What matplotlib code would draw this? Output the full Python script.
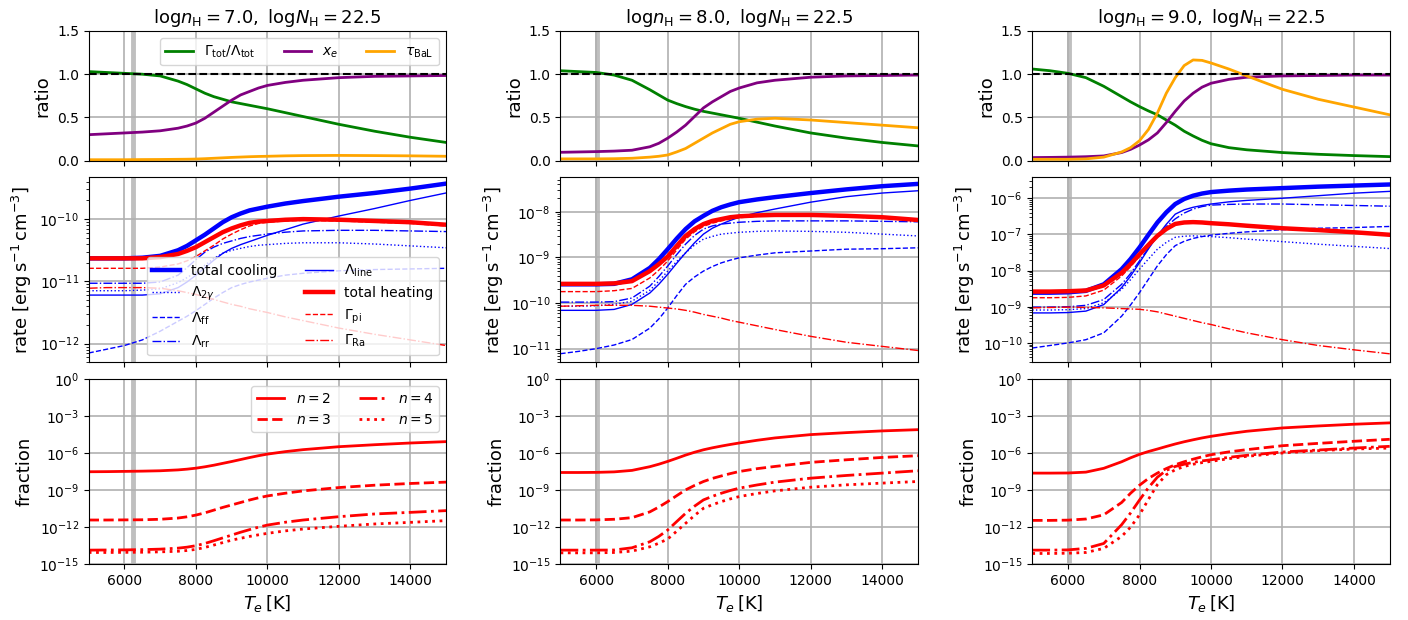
import numpy as np
import matplotlib.pyplot as plt
from matplotlib.ticker import NullLocator

# electron temperature grid [K]
T = [5000, 5500, 6000, 6500, 7000, 7500, 7750, 8000, 8250, 8500, 8750,
     9000, 9250, 9500, 9750, 10000, 10500, 11000, 12000, 13000, 14000, 15000]

lognH = [7.0, 8.0, 9.0]
logNH = 22.5
T_eq = [6230, 6020, 6030]

# ---- log nH = 7 ----
hc_7 = [1.03, 1.02, 1.01, 1.00, 0.98, 0.92, 0.88, 0.83, 0.78, 0.74, 0.71, 0.68, 0.66, 0.64, 0.62, 0.60, 0.555, 0.51, 0.42, 0.34, 0.27, 0.21]
xe_7 = [0.30, 0.31, 0.32, 0.33, 0.345, 0.375, 0.40, 0.435, 0.49, 0.56, 0.63, 0.70, 0.76, 0.80, 0.84, 0.87, 0.905, 0.93, 0.96, 0.975, 0.98, 0.985]
tau_7 = [0.01, 0.01, 0.01, 0.012, 0.013, 0.015, 0.016, 0.018, 0.022, 0.027, 0.032, 0.037, 0.041, 0.045, 0.048, 0.05, 0.055, 0.058, 0.06, 0.058, 0.055, 0.05]

cool_7 = [-10.63, -10.63, -10.63, -10.62, -10.59, -10.50, -10.43, -10.34, -10.25, -10.15, -10.05, -9.97, -9.91, -9.86, -9.83, -9.80, -9.75, -9.71, -9.64, -9.58, -9.51, -9.43]
heat_7 = [-10.63, -10.63, -10.63, -10.63, -10.61, -10.56, -10.51, -10.45, -10.37, -10.29, -10.21, -10.15, -10.10, -10.06, -10.04, -10.03, -10.01, -10.00, -10.01, -10.03, -10.05, -10.09]
line_7 = [-11.22, -11.22, -11.22, -11.22, -11.20, -11.10, -11.01, -10.90, -10.78, -10.66, -10.55, -10.47, -10.41, -10.36, -10.31, -10.26, -10.17, -10.08, -9.95, -9.83, -9.70, -9.58]
rr_7 = [-11.03, -11.03, -11.03, -11.03, -11.01, -10.90, -10.78, -10.65, -10.53, -10.45, -10.39, -10.35, -10.31, -10.28, -10.26, -10.24, -10.21, -10.19, -10.18, -10.18, -10.19, -10.20]
twog_7 = [-11.15, -11.15, -11.15, -11.14, -11.12, -11.02, -10.94, -10.85, -10.74, -10.63, -10.55, -10.50, -10.47, -10.44, -10.42, -10.41, -10.39, -10.38, -10.38, -10.40, -10.43, -10.46]
ff_7 = [-12.15, -12.09, -12.03, -11.94, -11.80, -11.64, -11.56, -11.47, -11.37, -11.27, -11.18, -11.10, -11.05, -11.01, -10.98, -10.95, -10.90, -10.87, -10.83, -10.81, -10.80, -10.79]
pi_7 = [-10.79, -10.79, -10.79, -10.79, -10.77, -10.72, -10.67, -10.60, -10.51, -10.42, -10.32, -10.24, -10.17, -10.11, -10.07, -10.05, -10.03, -10.02, -10.03, -10.05, -10.07, -10.11]
ra_7 = [-11.11, -11.10, -11.10, -11.10, -11.11, -11.15, -11.18, -11.21, -11.25, -11.29, -11.33, -11.37, -11.40, -11.44, -11.47, -11.50, -11.57, -11.63, -11.75, -11.85, -11.94, -12.03]

n2_7 = [-7.51, -7.50, -7.48, -7.46, -7.43, -7.36, -7.30, -7.22, -7.11, -6.98, -6.83, -6.68, -6.52, -6.36, -6.21, -6.08, -5.88, -5.72, -5.48, -5.32, -5.18, -5.07]
n3_7 = [-11.42, -11.42, -11.41, -11.40, -11.36, -11.26, -11.16, -11.02, -10.84, -10.62, -10.40, -10.20, -10.00, -9.80, -9.62, -9.47, -9.25, -9.06, -8.79, -8.60, -8.46, -8.35]
n4_7 = [-13.86, -13.85, -13.84, -13.82, -13.78, -13.70, -13.62, -13.50, -13.32, -13.10, -12.87, -12.64, -12.41, -12.20, -12.00, -11.83, -11.60, -11.42, -11.15, -10.93, -10.80, -10.66]
n5_7 = [-14.05, -14.05, -14.04, -14.03, -14.00, -13.95, -13.89, -13.80, -13.64, -13.45, -13.25, -13.05, -12.90, -12.75, -12.62, -12.50, -12.30, -12.15, -11.93, -11.74, -11.61, -11.47]

# ---- log nH = 8 ----
hc_8 = [1.04, 1.03, 1.02, 0.99, 0.93, 0.82, 0.76, 0.70, 0.66, 0.625, 0.595, 0.57, 0.55, 0.53, 0.51, 0.49, 0.445, 0.40, 0.32, 0.26, 0.21, 0.17]
xe_8 = [0.096, 0.10, 0.104, 0.11, 0.12, 0.16, 0.20, 0.26, 0.33, 0.41, 0.51, 0.61, 0.68, 0.74, 0.80, 0.84, 0.90, 0.93, 0.965, 0.98, 0.985, 0.99]
tau_8 = [0.02, 0.02, 0.02, 0.022, 0.027, 0.04, 0.05, 0.065, 0.10, 0.14, 0.20, 0.26, 0.32, 0.37, 0.42, 0.45, 0.48, 0.49, 0.47, 0.44, 0.41, 0.38]

cool_8 = [-9.59, -9.59, -9.59, -9.58, -9.48, -9.23, -9.04, -8.82, -8.59, -8.38, -8.21, -8.09, -7.98, -7.90, -7.84, -7.79, -7.73, -7.68, -7.59, -7.51, -7.44, -7.39]
heat_8 = [-9.58, -9.58, -9.58, -9.57, -9.52, -9.30, -9.15, -8.98, -8.75, -8.53, -8.38, -8.27, -8.20, -8.16, -8.12, -8.10, -8.08, -8.07, -8.07, -8.09, -8.12, -8.18]
line_8 = [-10.16, -10.16, -10.16, -10.14, -10.03, -9.78, -9.59, -9.37, -9.13, -8.90, -8.68, -8.49, -8.36, -8.27, -8.19, -8.12, -8.02, -7.94, -7.79, -7.67, -7.59, -7.54]
rr_8 = [-9.98, -9.98, -9.98, -9.97, -9.89, -9.63, -9.42, -9.19, -8.94, -8.71, -8.52, -8.38, -8.31, -8.27, -8.25, -8.23, -8.21, -8.20, -8.20, -8.20, -8.21, -8.22]
twog_8 = [-10.07, -10.07, -10.06, -10.03, -9.96, -9.72, -9.52, -9.30, -9.09, -8.90, -8.73, -8.60, -8.54, -8.49, -8.47, -8.45, -8.43, -8.42, -8.43, -8.45, -8.49, -8.53]
ff_8 = [-11.11, -11.06, -11.00, -10.92, -10.80, -10.55, -10.35, -10.11, -9.84, -9.59, -9.43, -9.30, -9.20, -9.12, -9.06, -9.01, -8.95, -8.90, -8.86, -8.82, -8.81, -8.79]
pi_8 = [-9.75, -9.75, -9.75, -9.73, -9.68, -9.45, -9.28, -9.08, -8.84, -8.60, -8.44, -8.32, -8.25, -8.20, -8.16, -8.13, -8.10, -8.09, -8.09, -8.11, -8.14, -8.20]
ra_8 = [-10.07, -10.06, -10.05, -10.05, -10.05, -10.07, -10.09, -10.11, -10.13, -10.16, -10.20, -10.25, -10.29, -10.33, -10.38, -10.42, -10.50, -10.58, -10.73, -10.86, -10.95, -11.04]

n2_8 = [-7.57, -7.57, -7.56, -7.52, -7.40, -7.10, -6.90, -6.67, -6.42, -6.16, -5.93, -5.73, -5.57, -5.43, -5.30, -5.18, -4.96, -4.77, -4.50, -4.34, -4.20, -4.10]
n3_8 = [-11.42, -11.42, -11.41, -11.36, -11.23, -10.76, -10.37, -9.93, -9.45, -8.98, -8.62, -8.30, -8.05, -7.85, -7.66, -7.49, -7.26, -7.08, -6.75, -6.54, -6.35, -6.21]
n4_8 = [-13.86, -13.86, -13.86, -13.85, -13.67, -13.18, -12.75, -12.23, -11.55, -10.88, -10.30, -9.79, -9.50, -9.25, -9.03, -8.84, -8.58, -8.35, -8.03, -7.81, -7.62, -7.43]
n5_8 = [-14.08, -14.08, -14.08, -14.05, -13.94, -13.59, -13.30, -12.96, -12.33, -11.69, -11.05, -10.47, -10.18, -9.93, -9.71, -9.52, -9.27, -9.06, -8.76, -8.57, -8.43, -8.30]

# ---- log nH = 9 ----
hc_9 = [1.06, 1.04, 1.01, 0.96, 0.86, 0.74, 0.68, 0.625, 0.575, 0.53, 0.47, 0.41, 0.34, 0.285, 0.235, 0.195, 0.15, 0.125, 0.093, 0.073, 0.058, 0.046]
xe_9 = [0.035, 0.037, 0.04, 0.045, 0.054, 0.093, 0.13, 0.18, 0.24, 0.32, 0.44, 0.57, 0.69, 0.78, 0.85, 0.895, 0.94, 0.965, 0.98, 0.985, 0.99, 0.99]
tau_9 = [0.015, 0.015, 0.015, 0.02, 0.04, 0.10, 0.15, 0.23, 0.36, 0.55, 0.78, 0.96, 1.10, 1.165, 1.16, 1.13, 1.06, 0.98, 0.825, 0.71, 0.62, 0.53]

cool_9 = [-8.61, -8.61, -8.60, -8.56, -8.38, -7.96, -7.68, -7.36, -7.01, -6.67, -6.39, -6.16, -6.02, -5.93, -5.87, -5.83, -5.79, -5.76, -5.72, -5.68, -5.65, -5.62]
heat_9 = [-8.58, -8.58, -8.57, -8.55, -8.41, -8.06, -7.82, -7.55, -7.29, -7.04, -6.85, -6.71, -6.67, -6.66, -6.67, -6.69, -6.72, -6.76, -6.83, -6.88, -6.94, -7.01]
line_9 = [-9.17, -9.17, -9.16, -9.12, -8.94, -8.47, -8.15, -7.78, -7.40, -7.04, -6.72, -6.44, -6.32, -6.25, -6.20, -6.16, -6.10, -6.06, -6.00, -5.93, -5.86, -5.81]
rr_9 = [-9.01, -9.01, -9.00, -8.96, -8.80, -8.38, -8.08, -7.73, -7.38, -7.04, -6.78, -6.57, -6.41, -6.30, -6.23, -6.19, -6.17, -6.16, -6.16, -6.18, -6.20, -6.22]
twog_9 = [-9.09, -9.09, -9.08, -9.05, -8.89, -8.52, -8.25, -7.96, -7.68, -7.41, -7.22, -7.08, -7.05, -7.04, -7.05, -7.06, -7.09, -7.13, -7.20, -7.27, -7.33, -7.39]
ff_9 = [-10.14, -10.07, -10.00, -9.91, -9.72, -9.26, -8.95, -8.61, -8.24, -7.87, -7.56, -7.31, -7.19, -7.11, -7.06, -7.02, -6.97, -6.93, -6.87, -6.83, -6.81, -6.78]
pi_9 = [-8.75, -8.75, -8.74, -8.70, -8.54, -8.15, -7.89, -7.61, -7.33, -7.07, -6.87, -6.73, -6.69, -6.68, -6.69, -6.71, -6.74, -6.78, -6.85, -6.90, -6.96, -7.03]
ra_9 = [-9.03, -9.02, -9.01, -9.02, -9.03, -9.05, -9.06, -9.07, -9.10, -9.14, -9.20, -9.26, -9.32, -9.38, -9.44, -9.49, -9.61, -9.72, -9.91, -10.07, -10.19, -10.30]

n2_9 = [-7.62, -7.62, -7.61, -7.54, -7.23, -6.70, -6.38, -6.10, -5.87, -5.67, -5.46, -5.26, -5.08, -4.92, -4.77, -4.64, -4.42, -4.23, -3.96, -3.80, -3.66, -3.55]
n3_9 = [-11.45, -11.45, -11.43, -11.34, -11.00, -10.00, -9.25, -8.60, -8.05, -7.62, -7.25, -6.94, -6.70, -6.49, -6.30, -6.13, -5.90, -5.72, -5.40, -5.21, -5.04, -4.88]
n4_9 = [-13.86, -13.86, -13.84, -13.72, -13.32, -11.80, -10.85, -9.80, -8.80, -7.95, -7.40, -7.08, -6.90, -6.75, -6.63, -6.54, -6.34, -6.18, -5.91, -5.75, -5.59, -5.45]
n5_9 = [-14.13, -14.13, -14.11, -14.05, -13.72, -12.75, -12.00, -11.00, -9.75, -8.55, -7.75, -7.35, -7.08, -6.90, -6.77, -6.67, -6.45, -6.26, -5.99, -5.80, -5.67, -5.59]

rate_ylim = [(5.0e-13, 4.7e-10), (5.0e-12, 5.7e-8), (2.9e-11, 3.8e-6)]

ratios = [(hc_7, xe_7, tau_7), (hc_8, xe_8, tau_8), (hc_9, xe_9, tau_9)]
rates = [(cool_7, twog_7, ff_7, rr_7, line_7, heat_7, pi_7, ra_7),
         (cool_8, twog_8, ff_8, rr_8, line_8, heat_8, pi_8, ra_8),
         (cool_9, twog_9, ff_9, rr_9, line_9, heat_9, pi_9, ra_9)]
levels = [(n2_7, n3_7, n4_7, n5_7), (n2_8, n3_8, n4_8, n5_8), (n2_9, n3_9, n4_9, n5_9)]

rate_style = [
    ('total cooling', 'b', '-', 3.2),
    (r'$\Lambda_{2\gamma}$', 'b', ':', 1.0),
    (r'$\Lambda_{\rm ff}$', 'b', '--', 1.0),
    (r'$\Lambda_{\rm rr}$', 'b', '-.', 1.0),
    (r'$\Lambda_{\rm line}$', 'b', '-', 1.0),
    ('total heating', 'r', '-', 3.2),
    (r'$\Gamma_{\rm pi}$', 'r', '--', 1.0),
    (r'$\Gamma_{\rm Ra}$', 'r', '-.', 1.0),
]
level_style = [(r'$n=2$', '-'), (r'$n=3$', '--'), (r'$n=4$', '-.'), (r'$n=5$', ':')]

plt.rcParams['font.size'] = 10
plt.rcParams['xtick.labelsize'] = 10
plt.rcParams['ytick.labelsize'] = 10

fig, axes = plt.subplots(3, 3, figsize=(14.08, 6.2), dpi=100, sharex='col',
                         gridspec_kw=dict(height_ratios=[0.7, 1, 1]))
fig.subplots_adjust(left=0.063, right=0.987, bottom=0.09, top=0.95,
                    wspace=0.32, hspace=0.1)

for j in range(3):
    ax0, ax1, ax2 = axes[:, j]
    for ax in axes[:, j]:
        ax.grid(True, lw=1.2, color='#b0b0b0')
        ax.axvline(T_eq[j], color='gray', alpha=0.5, lw=3.5, zorder=1.5)
        ax.set_xlim(5000, 15000)

    # ratio panel
    hc, xe, tau = ratios[j]
    ax0.plot(T, hc, color='green', lw=2, label=r'$\Gamma_{\rm tot}/\Lambda_{\rm tot}$')
    ax0.plot(T, xe, color='purple', lw=2, label=r'$x_e$')
    ax0.plot(T, tau, color='orange', lw=2, label=r'$\tau_{\rm BaL}$')
    ax0.axhline(1.0, color='k', ls='--', lw=1.5)
    ax0.set_ylim(0, 1.5)
    ax0.set_yticks([0, 0.5, 1.0, 1.5])
    ax0.set_ylabel('ratio', fontsize=13)
    ax0.set_title(r'$\mathrm{log}n_{\rm H}=%.1f,\ \mathrm{log}N_{\rm H}=%.1f$'
                  % (lognH[j], logNH), fontsize=13)

    # heating / cooling rates
    for vals, (lab, c, ls, lw) in zip(rates[j], rate_style):
        ax1.plot(T, 10 ** np.array(vals), color=c, ls=ls, lw=lw, label=lab)
    ax1.set_yscale('log')
    ax1.set_ylim(*rate_ylim[j])
    ax1.set_ylabel(r'rate [$\mathrm{erg\,s^{-1}\,cm^{-3}}$]', fontsize=13)

    # level populations
    for vals, (lab, ls) in zip(levels[j], level_style):
        ax2.plot(T, 10 ** np.array(vals), color='r', ls=ls, lw=2, label=lab)
    ax2.set_yscale('log')
    ax2.set_ylim(1e-15, 1)
    ax2.set_yticks([1e-15, 1e-12, 1e-9, 1e-6, 1e-3, 1])
    ax2.yaxis.set_minor_locator(NullLocator())
    ax2.set_ylabel('fraction', fontsize=13)
    ax2.set_xlabel(r'$T_e\,[\rm K]$', fontsize=13)

    if j == 0:
        ax0.legend(loc='upper right', ncol=3, fontsize=10)
        ax1.legend(loc='lower right', ncol=2, fontsize=10)
        ax2.legend(loc='upper right', ncol=2, fontsize=10)

fig.savefig('out.png', dpi=100)
